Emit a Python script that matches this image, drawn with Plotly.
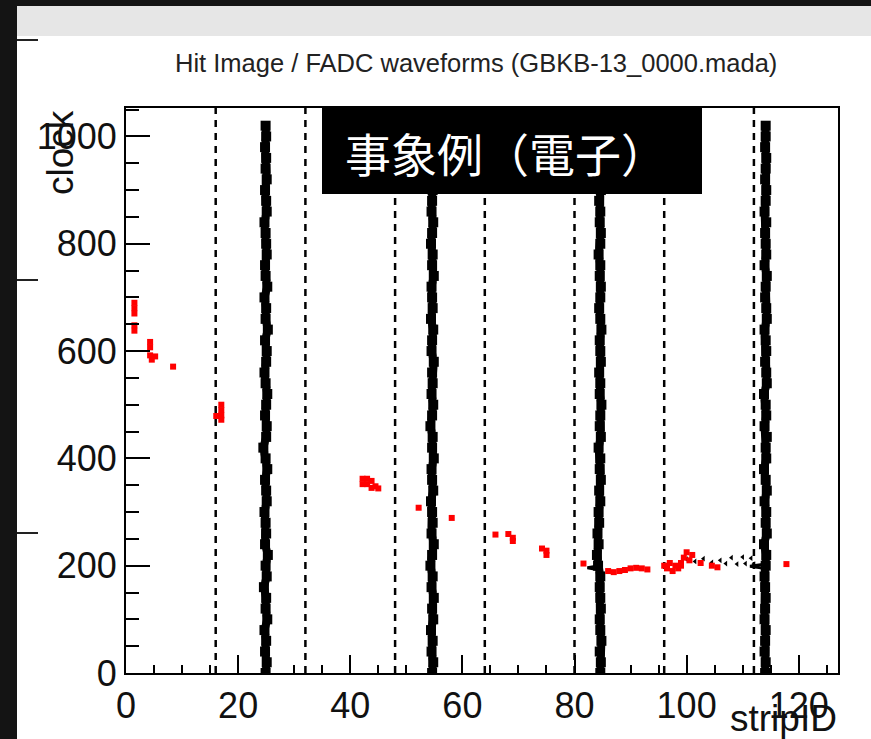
import plotly.graph_objects as go

# ---------------- data ----------------
title_text = "Hit Image / FADC waveforms (GBKB-13_0000.mada)"
x_title = "stripID"
y_title = "clock"
box_text = "事象例（電子）"

x_range = [0, 127]
y_range = [0, 1053]

boundary_strips = [16, 32, 48, 64, 80, 96, 112]

# hit image (red)
hit_strip = [1.5, 1.5, 1.5, 1.5, 1.5,
             4.3, 4.3, 4.3, 5.2, 4.6,
             8.4,
             17.0, 17.0, 17.0, 17.0, 16.1,
             42.2, 43.0, 42.2, 43.0, 43.8, 44.5, 45.0, 43.8,
             52.2, 58.1, 65.9,
             68.2, 69.0, 69.0,
             74.2, 75.0, 75.0,
             81.6,
             86, 87, 88, 89, 90, 91, 92, 93,
             96, 96.5, 97, 97.5, 98, 98.5, 99, 99.5, 100, 100.5, 101, 99,
             102.5, 104.5, 105.5, 117.8]
hit_clock = [690, 680, 670, 648, 638,
             617, 607, 592, 590, 584,
             571,
             500, 490, 480, 472, 479,
             362, 362, 352, 352, 358, 348, 344, 345,
             308, 289, 258,
             259, 252, 246,
             232, 228, 220,
             204,
             190, 188, 190, 192, 195, 196, 195, 193,
             200, 195, 205, 190, 200, 195, 205, 215, 225, 210, 220, 200,
             205, 200, 197, 203]

# FADC waveform samples (clock) and strip position of each waveform
wf_clock = [0, 20, 40, 60, 80, 100, 120, 140, 160, 180, 200, 220, 240, 260,
            280, 300, 320, 340, 360, 380, 400, 420, 440, 460, 480, 500, 520,
            540, 560, 580, 600, 620, 640, 660, 680, 700, 720, 740, 760, 780,
            800, 820, 840, 860, 880, 900, 920, 940, 960, 980, 1000, 1020]
wf25_strip = [24.9, 25.1, 24.8, 25.0, 24.7, 25.2, 24.9, 25.0, 24.6, 25.1,
              24.9, 25.3, 24.8, 25.0, 24.9, 24.7, 25.1, 25.0, 24.8, 25.2,
              24.9, 24.5, 25.0, 25.1, 24.8, 25.0, 25.2, 24.9, 24.7, 25.0,
              25.1, 24.8, 25.3, 24.9, 25.0, 24.7, 25.2, 24.9, 24.8, 25.1,
              25.0, 24.9, 24.7, 25.1, 25.0, 24.8, 25.1, 24.9, 25.0, 24.8,
              25.0, 24.9]
wf55_strip = [54.6, 54.8, 54.5, 54.7, 54.4, 54.8, 54.6, 54.9, 54.5, 54.7,
              54.3, 54.6, 54.9, 54.5, 54.7, 54.6, 54.4, 54.8, 54.6, 54.5,
              54.9, 54.6, 54.7, 54.3, 54.6, 54.8, 54.5, 54.7, 54.6, 54.9,
              54.5, 54.6, 54.8, 54.4, 54.7, 54.6, 54.5, 54.9, 54.6, 54.7,
              54.4, 54.6, 54.8, 54.5, 54.6, 54.7, 54.5, 54.8, 54.6, 54.6,
              54.7, 54.6]
wf85_strip = [84.6, 84.7, 84.5, 84.8, 84.6, 84.5, 84.7, 84.6, 84.5, 84.6,
              84.2, 84.0, 84.3, 84.1, 84.4, 84.3, 84.6, 84.4, 84.7, 84.5,
              84.6, 84.3, 84.7, 84.5, 84.6, 84.8, 84.5, 84.6, 84.4, 84.7,
              84.6, 84.5, 84.8, 84.6, 84.4, 84.6, 84.7, 84.5, 84.6, 84.3,
              84.6, 84.7, 84.5, 84.6, 84.4, 84.7, 84.6, 84.5, 84.6, 84.7,
              84.5, 84.6]
wf115_strip = [114.0, 114.1, 113.9, 114.0, 114.1, 113.9, 114.0, 114.1, 114.0,
               113.9, 114.1, 114.2, 113.8, 114.3, 114.1, 114.2, 113.9, 114.3,
               114.1, 113.8, 114.2, 114.1, 114.3, 113.9, 114.2, 114.1, 113.8,
               114.3, 114.2, 114.0, 114.2, 114.1, 113.9, 114.3, 114.2, 114.0,
               114.1, 114.3, 113.9, 114.2, 114.1, 114.0, 114.2, 113.9, 114.1,
               114.2, 114.0, 114.1, 114.2, 114.0, 114.1, 114.1]

# small horizontal excursions of the waveforms near clock ~200
notch85_strip = [84.5, 82.3, 84.5]
notch85_clock = [200, 196, 192]
notch115_strip = [114.0, 111.3, 114.0]
notch115_clock = [203, 199, 195]

# tiny black marks between strips 100 and 112
mark_strip = [100, 101.5, 103, 104.5, 106, 107, 108, 109, 110, 110.5, 111.5, 112]
mark_clock = [212, 208, 213, 206, 210, 204, 215, 203, 216, 204, 214, 203]

# ---------------- figure ----------------
W, H = 871, 739
L, R, T, B = 126, 33, 108, 66
pw, ph = W - L - R, H - T - B


def px(xp):
    return (xp - L) / pw


def py(yp):
    return (H - B - yp) / ph


FONT = "Liberation Sans, Arial, Helvetica, sans-serif"

fig = go.Figure()

# dashed boundaries
bx, by = [], []
for b in boundary_strips:
    bx += [b, b, None]
    by += [y_range[0], y_range[1], None]
fig.add_trace(go.Scatter(x=bx, y=by, mode="lines",
                         line=dict(color="black", width=2.5, dash="7px,6px"),
                         hoverinfo="skip", showlegend=False))

# waveforms
for ws in [wf25_strip, wf55_strip, wf85_strip, wf115_strip]:
    fig.add_trace(go.Scatter(x=ws, y=wf_clock, mode="lines+markers",
                             line=dict(color="black", width=8),
                             marker=dict(symbol="square", size=10, color="black"),
                             showlegend=False))
for nx, ny in [(notch85_strip, notch85_clock), (notch115_strip, notch115_clock)]:
    fig.add_trace(go.Scatter(x=nx, y=ny, mode="lines",
                             line=dict(color="black", width=3),
                             showlegend=False))
fig.add_trace(go.Scatter(x=mark_strip, y=mark_clock, mode="markers",
                         marker=dict(symbol="triangle-left", size=5, color="black"),
                         showlegend=False))

# hits
fig.add_trace(go.Scatter(x=hit_strip, y=hit_clock, mode="markers",
                         marker=dict(symbol="square", size=6, color="#ff0000",
                                     line=dict(width=0)),
                         showlegend=False))

axis_common = dict(showline=True, linewidth=2, linecolor="black", mirror=True,
                   showgrid=False, zeroline=False, ticks="inside",
                   tickwidth=2, tickcolor="black",
                   tickfont=dict(family=FONT, size=36, color="#111111"))

fig.update_xaxes(range=x_range, dtick=20, tick0=0, ticklen=18,
                 minor=dict(ticks="inside", dtick=5, ticklen=8, tickwidth=2,
                            tickcolor="black"),
                 **axis_common)
fig.update_yaxes(range=y_range, dtick=200, tick0=0, ticklen=24,
                 minor=dict(ticks="inside", dtick=50, ticklen=13, tickwidth=2,
                            tickcolor="black"),
                 **axis_common)

shapes = [
    # white panel
    dict(type="rect", xref="paper", yref="paper", x0=px(17), x1=px(W + 5),
         y0=py(H + 5), y1=py(36), fillcolor="white", line=dict(width=0),
         layer="below"),
    # grey band at top
    dict(type="rect", xref="paper", yref="paper", x0=px(17), x1=px(W + 5),
         y0=py(36), y1=py(6), fillcolor="#e6e6e6", line=dict(width=0),
         layer="below"),
    # black label box
    dict(type="rect", xref="paper", yref="paper", x0=px(322), x1=px(702),
         y0=py(194), y1=py(108), fillcolor="black", line=dict(width=0),
         layer="above"),
]
for yy in [40, 280, 533]:
    shapes.append(dict(type="line", xref="paper", yref="paper", x0=px(17),
                       x1=px(38), y0=py(yy), y1=py(yy),
                       line=dict(color="#222222", width=2)))

annotations = [
    dict(text=title_text, xref="paper", yref="paper", x=px(476), y=py(63),
         xanchor="center", yanchor="middle", showarrow=False,
         font=dict(family=FONT, size=25.5, color="#222222")),
    dict(text=x_title, xref="paper", yref="paper", x=px(839), y=py(718),
         xanchor="right", yanchor="middle", showarrow=False,
         font=dict(family=FONT, size=37, color="#111111")),
    dict(text=y_title, xref="paper", yref="paper", x=px(60), y=py(153),
         xanchor="center", yanchor="middle", showarrow=False, textangle=-90,
         font=dict(family=FONT, size=37, color="#111111")),
    dict(text=box_text, xref="paper", yref="paper", x=px(343), y=py(152),
         xanchor="left", yanchor="middle", showarrow=False,
         font=dict(family="Noto Sans CJK JP", size=46, color="white")),
]

fig.update_layout(width=W, height=H, margin=dict(l=L, r=R, t=T, b=B),
                  paper_bgcolor="#141414", plot_bgcolor="white",
                  shapes=shapes, annotations=annotations, showlegend=False)

fig.write_html("out.html")
